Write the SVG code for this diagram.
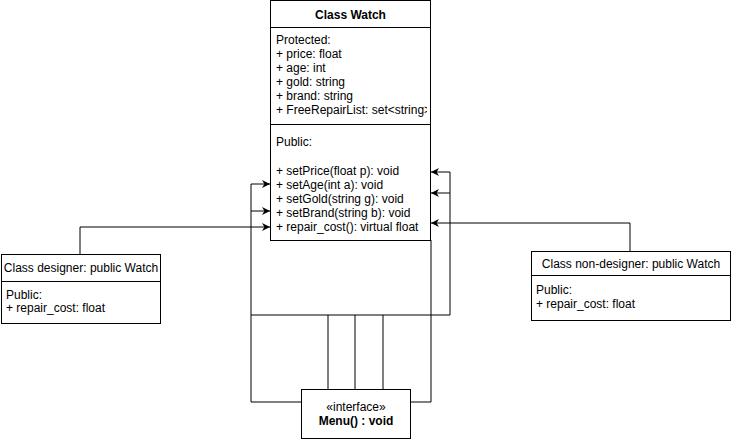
<svg xmlns="http://www.w3.org/2000/svg" width="731" height="440" viewBox="0 0 731 440">
<style>
.box{fill:#fff;stroke:#000;stroke-width:1}
.ln{fill:none;stroke:#000;stroke-width:1}
.t{font-family:"Liberation Sans",Arial,sans-serif;font-size:12px;fill:#000}
.b{font-weight:bold}
.c{text-anchor:middle}
</style>
<defs>
<marker id="arr" viewBox="0 0 10 10" refX="10" refY="5" markerWidth="8" markerHeight="8" markerUnits="userSpaceOnUse" orient="auto">
<path d="M0,0 L10,5 L0,10 L3,5 Z" fill="#000"/>
</marker>
<clipPath id="wclip"><rect x="270" y="0" width="157" height="240"/></clipPath>
</defs>
<g id="connectors">
<polyline class="ln" points="251,184 251,402 301,402"/>
<line class="ln" x1="251" y1="184" x2="270" y2="184" marker-end="url(#arr)"/>
<line class="ln" x1="251" y1="211" x2="270" y2="211" marker-end="url(#arr)"/>
<polyline class="ln" points="80,254 80,227 270,227" marker-end="url(#arr)"/>
<polyline class="ln" points="450,172 450,315 251,315"/>
<line class="ln" x1="450" y1="172" x2="431" y2="172" marker-end="url(#arr)"/>
<line class="ln" x1="450" y1="193" x2="431" y2="193" marker-end="url(#arr)"/>
<polyline class="ln" points="630,251 630,223 431,223" marker-end="url(#arr)"/>
<path d="M421,219 L430,223 L421,227 L424,223 Z" fill="#000"/>
<polyline class="ln" points="431,240 431,402 411,402"/>
<line class="ln" x1="328" y1="315" x2="328" y2="389"/>
<line class="ln" x1="355" y1="315" x2="355" y2="389"/>
<line class="ln" x1="383" y1="315" x2="383" y2="389"/>
</g>
<g id="watch">
<rect class="box" x="270.5" y="0.5" width="160" height="240"/>
<line class="ln" x1="270.5" y1="27.5" x2="430.5" y2="27.5"/>
<line class="ln" x1="270.5" y1="124.5" x2="430.5" y2="124.5"/>
<text class="t b c" x="350.5" y="19">Class Watch</text>
<g clip-path="url(#wclip)">
<text class="t" x="276" y="44">Protected:</text>
<text class="t" x="276" y="58">+ price: float</text>
<text class="t" x="276" y="72">+ age: int</text>
<text class="t" x="276" y="86">+ gold: string</text>
<text class="t" x="276" y="100">+ brand: string</text>
<text class="t" x="276" y="114">+ FreeRepairList: set&lt;string&gt;</text>
<text class="t" x="276" y="146">Public:</text>
<text class="t" x="276" y="175">+ setPrice(float p): void</text>
<text class="t" x="276" y="189">+ setAge(int a): void</text>
<text class="t" x="276" y="203">+ setGold(string g): void</text>
<text class="t" x="276" y="217">+ setBrand(string b): void</text>
<text class="t" x="276" y="231">+ repair_cost(): virtual float</text>
</g>
</g>
<g id="designer">
<rect class="box" x="1.5" y="254.5" width="159" height="69"/>
<line class="ln" x1="1.5" y1="281.5" x2="160.5" y2="281.5"/>
<text class="t c" x="81" y="272">Class designer: public Watch</text>
<text class="t" x="6" y="299">Public:</text>
<text class="t" x="6" y="312">+ repair_cost: float</text>
</g>
<g id="nondesigner">
<rect class="box" x="531.5" y="251.5" width="199" height="69"/>
<line class="ln" x1="531.5" y1="275.5" x2="730.5" y2="275.5"/>
<text class="t c" x="631" y="268">Class non-designer: public Watch</text>
<text class="t" x="536" y="294">Public:</text>
<text class="t" x="536" y="308">+ repair_cost: float</text>
</g>
<g id="menu">
<rect class="box" x="301.5" y="389.5" width="109" height="49"/>
<text class="t c" x="356" y="411">«interface»</text>
<text class="t b c" x="356" y="425">Menu() : void</text>
</g>
</svg>
